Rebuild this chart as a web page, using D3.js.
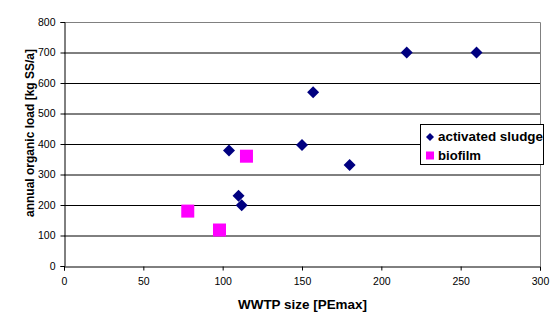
<!DOCTYPE html>
<html><head><meta charset="utf-8">
<script src="https://cdn.jsdelivr.net/npm/d3@7"></script>
<style>body{margin:0;background:#fff}svg{display:block}text{font-family:"Liberation Sans",Arial,sans-serif}</style>
</head><body>
<svg id="c" width="556" height="324"></svg>
<script>
const activatedX = [216, 260, 157, 150, 180, 104, 110, 112];
const activatedY = [700, 700, 570, 397, 331, 379, 230, 199];
const biofilmX = [78, 98, 115];
const biofilmY = [180, 118, 360];
const xTicks = [0, 50, 100, 150, 200, 250, 300];
const yTicks = [0, 100, 200, 300, 400, 500, 600, 700, 800];
const seriesNames = ["activated sludge", "biofilm"];

const svg = d3.select("#c");
const L = 64, R = 540, T = 22, B = 266;
const x = d3.scaleLinear().domain([0, 300]).range([L, R]);
const y = d3.scaleLinear().domain([0, 800]).range([B, T]);

svg.append("g").selectAll("line").data(yTicks.filter(d => d > 0 && d < 800)).join("line")
  .attr("x1", L).attr("x2", R).attr("y1", d => y(d) + 0.5).attr("y2", d => y(d) + 0.5)
  .attr("stroke", "#000").attr("stroke-width", 1);
svg.append("path").attr("d", `M${L},${T+0.5}H${R+0.5}V${B}`).attr("fill", "none").attr("stroke", "#808080");

const yAxis = d3.axisLeft(y).tickValues(yTicks).tickSize(4).tickPadding(5);
const gy = svg.append("g").attr("transform", `translate(${L+0.5},0)`).call(yAxis);
const xAxis = d3.axisBottom(x).tickValues(xTicks).tickSize(4).tickPadding(7);
const gx = svg.append("g").attr("transform", `translate(0,${B+0.5})`).call(xAxis);
[gy, gx].forEach(g => {
  g.select(".domain").attr("stroke", "#000");
  g.selectAll(".tick line").attr("stroke", "#000");
  g.selectAll("text").attr("font-size", 10.5).attr("fill", "#000").attr("font-family", "Liberation Sans, Arial, sans-serif");
});

const diamond = d3.symbol().type(d3.symbolSquare).size(72);
svg.append("g").selectAll("path").data(activatedX.map((v, i) => [v, activatedY[i]])).join("path")
  .attr("d", diamond)
  .attr("transform", d => `translate(${x(d[0])},${y(d[1])}) rotate(45)`)
  .attr("fill", "#000080");

svg.append("g").selectAll("rect").data(biofilmX.map((v, i) => [v, biofilmY[i]])).join("rect")
  .attr("x", d => x(d[0]) - 6.5).attr("y", d => y(d[1]) - 6.5)
  .attr("width", 13).attr("height", 13).attr("fill", "#ff00ff");

svg.append("text").attr("x", 238).attr("y", 309)
  .attr("font-size", 12).attr("font-weight", "bold")
  .attr("textLength", 129).attr("lengthAdjust", "spacingAndGlyphs").text("WWTP size [PEmax]");
svg.append("text").attr("transform", `translate(34,217) rotate(-90)`)
  .attr("font-size", 12).attr("font-weight", "bold")
  .attr("textLength", 168).attr("lengthAdjust", "spacingAndGlyphs").text("annual organic load [kg SS/a]");

const lg = svg.append("g");
lg.append("rect").attr("x", 420.5).attr("y", 124.5).attr("width", 123).attr("height", 40)
  .attr("fill", "#fff").attr("stroke", "#000");
lg.append("path").attr("d", d3.symbol().type(d3.symbolSquare).size(32))
  .attr("transform", "translate(430,137) rotate(45)").attr("fill", "#000080");
lg.append("rect").attr("x", 426).attr("y", 151.5).attr("width", 8).attr("height", 8).attr("fill", "#ff00ff");
const legLens = [105, 43];
lg.selectAll("text").data(seriesNames).join("text")
  .attr("x", 438).attr("y", (d, i) => 141 + i * 19)
  .attr("font-size", 12).attr("font-weight", "bold")
  .attr("textLength", (d, i) => legLens[i]).attr("lengthAdjust", "spacingAndGlyphs").text(d => d);
</script>
</body></html>
